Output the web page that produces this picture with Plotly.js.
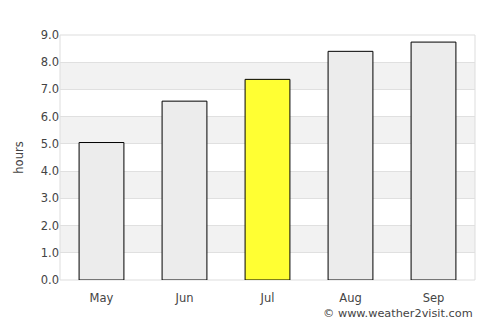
<!DOCTYPE html>
<html><head><meta charset="utf-8">
<script src="https://cdn.plot.ly/plotly-3.0.1.min.js"></script>
<style>html,body{margin:0;padding:0;background:#fff}#c{width:500px;height:325px}</style>
</head><body><div id="c"></div>
<script>
const months = ["May","Jun","Jul","Aug","Sep"];
const hours = [5.05, 6.57, 7.37, 8.4, 8.74];
const highlight = "Jul";
const yTicks = [0,1,2,3,4,5,6,7,8,9];

const colors = months.map(m => m === highlight ? "#ffff33" : "#ececec");
const shapes = [];
for (let i = 1; i < 9; i += 2) {
  shapes.push({type:"rect", xref:"paper", yref:"y", x0:0, x1:1, y0:i, y1:i+1,
    fillcolor:"#f2f2f2", line:{width:0}, layer:"below"});
}
shapes.push({type:"rect", xref:"paper", yref:"paper", x0:0, x1:1, y0:0, y1:1,
  line:{color:"#dddddd", width:1}, fillcolor:"rgba(0,0,0,0)", layer:"below"});

Plotly.newPlot("c", [{
  type:"bar", x:months, y:hours,
  marker:{color:colors, line:{color:"#000", width:1}},
  hoverinfo:"none"
}], {
  width:500, height:325,
  margin:{l:60, r:25, t:35, b:45},
  paper_bgcolor:"#fff", plot_bgcolor:"#fff",
  bargap:0.46,
  font:{family:"DejaVu Sans, sans-serif", size:11.5, color:"#444"},
  xaxis:{showgrid:false, zeroline:false, showline:false, ticks:"outside", ticklen:7, tickcolor:"rgba(0,0,0,0)",
    tickfont:{size:11.5, color:"#444"}},
  yaxis:{range:[0,9], tickvals:yTicks, ticktext:yTicks.map(v=>v.toFixed(1)),
    showgrid:true, gridcolor:"#e0e0e0", zeroline:false, showline:false,
    tickfont:{size:11.5, color:"#444"},
    title:{text:"hours", font:{size:11.5, color:"#444"}, standoff:14}},
  shapes:shapes,
  annotations:[{text:"© www.weather2visit.com", xref:"paper", yref:"paper", x:1.0, y:-0.135,
    xanchor:"right", yanchor:"middle", showarrow:false, font:{size:11.3, color:"#444"}}],
  showlegend:false
}, {displayModeBar:false, staticPlot:true});
</script></body></html>
